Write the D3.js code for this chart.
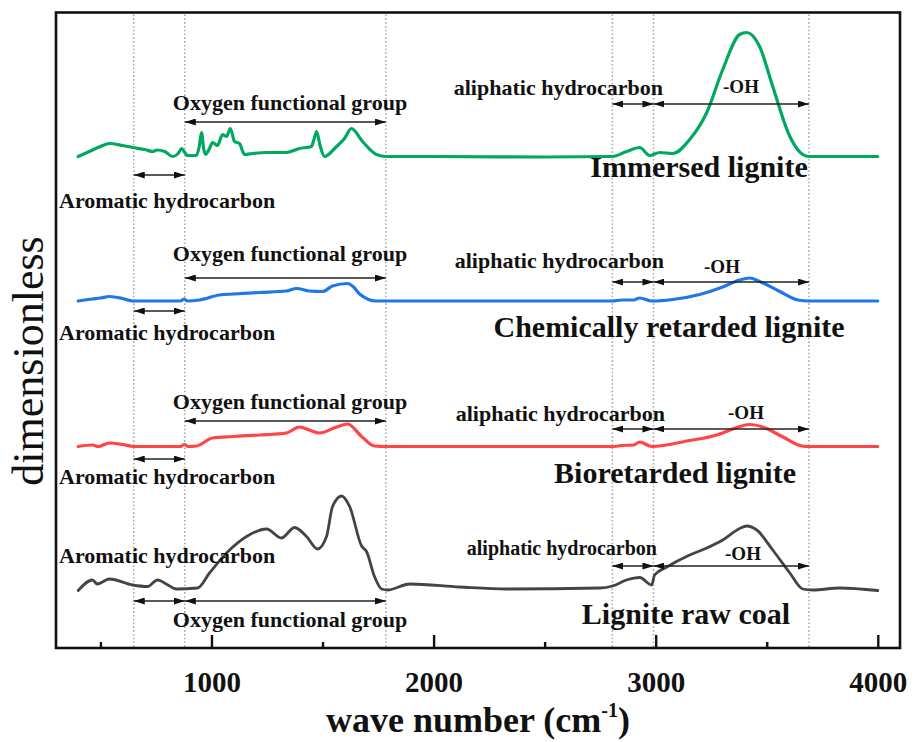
<!DOCTYPE html>
<html>
<head>
<meta charset="utf-8">
<script src="https://cdn.jsdelivr.net/npm/d3@7"></script>
<style>
  html, body { margin: 0; padding: 0; background: #fff; }
  text { font-family: "Liberation Serif", "Times New Roman", serif; }
</style>
</head>
<body>
<script>
// FTIR spectra of four lignite samples: wavenumber (cm-1) vs relative intensity (arbitrary units)
const immersed = [
  [400,0],[450,1.0],[500,2.0],[540,2.6],[600,2.2],[645,1.8],[700,1.4],[735,1.0],[755,1.3],[790,1.0],[824,0],[850,0.6],
  [865,1.6],[880,0.8],[892,0.2],[932,0.2],[945,2.0],[955,4.8],[965,1.5],[973,0.4],[990,1.5],[1005,2.8],
  [1027,2.2],[1050,4.4],[1068,4.0],[1085,5.6],[1104,3.0],[1126,2.6],[1149,0.4],[1185,0.6],[1250,0.8],
  [1338,0.8],[1396,1.6],[1450,2.0],[1462,3.5],[1473,5.0],[1490,2.0],[1509,0],[1563,2.0],[1599,3.6],
  [1630,5.6],[1680,3.0],[1743,0.4],[1785,0],[2000,0],[2500,-0.1],[2805,0],[2869,1.0],[2928,1.8],
  [2973,0.2],[3018,0.8],[3077,0.6],[3153,3.4],[3230,8.8],[3302,17.4],[3378,24.4],[3410,24.8],[3468,22.0],
  [3527,14.0],[3604,4.0],[3662,0.4],[3690,0],[4000,0]
];
const chemRetarded = [
  [400,0],[464,0.4],[500,0.6],[540,0.9],[600,0.5],[645,0],[766,0],[860,0],[878,0.4],[890,0],[946,0.2],
  [1036,1.2],[1100,1.4],[1216,1.7],[1338,2.0],[1383,2.5],[1441,2.0],[1500,1.9],[1545,3.0],[1613,3.5],
  [1640,2.8],[1667,1.4],[1743,0],[1785,0],[2400,0],[2805,0],[2847,0.2],[2900,0.2],[2928,0.6],[2982,0],
  [3077,0.3],[3198,1.3],[3302,2.8],[3378,4.2],[3423,4.6],[3468,3.9],[3559,1.9],[3640,0.2],[3690,0],[4000,0]
];
const bioRetarded = [
  [400,0],[464,0.3],[490,0],[540,0.7],[600,0.4],[650,0],[860,0],[878,0.4],[895,0],[932,0.1],[1005,1.7],
  [1095,2.0],[1216,2.3],[1338,2.7],[1396,3.9],[1440,3.3],[1486,2.7],[1563,3.9],[1613,4.5],[1676,2.0],
  [1734,0.1],[1785,0],[2805,0],[2847,0.2],[2900,0.3],[2928,0.9],[2982,0],[3153,1.2],[3275,2.3],
  [3347,3.5],[3423,4.4],[3482,3.9],[3573,1.9],[3658,0.1],[3690,0],[4000,0]
];
const rawCoal = [
  [400,0],[464,2.1],[486,1.3],[540,2.3],[645,1.1],[712,0.8],[757,2.1],[800,1.2],[842,0.3],[937,0.5],
  [991,3.5],[1068,7.5],[1158,10.8],[1248,12.3],[1315,10.5],[1374,12.6],[1428,10.8],[1477,8.3],[1518,10.8],
  [1545,16.8],[1586,18.9],[1622,16.8],[1676,8.9],[1698,7.8],[1734,2.8],[1766,0.3],[1793,0.1],[1892,1.3],
  [2117,0.7],[2329,0.3],[2748,0.5],[2806,0.9],[2869,2.1],[2928,2.6],[2982,1.1],[2995,3.1],[3050,4.7],
  [3153,7.1],[3230,8.5],[3302,10.1],[3378,12.4],[3410,12.9],[3455,12.1],[3527,8.1],[3604,3.5],[3662,0.3],
  [3707,0.1],[3829,0.5],[4000,0]
];

const seriesNames = ["Immersed lignite", "Chemically retarded lignite", "Bioretarded lignite", "Lignite raw coal"];
const seriesData = [immersed, chemRetarded, bioRetarded, rawCoal];
const seriesOffsets = [98.3, 69.4, 40.3, 11.5];      // vertical stacking offsets (a.u.)
const seriesColors = ["#00a862", "#1f78e6", "#ff4545", "#444444"];

// band boundaries (cm-1)
const bandBounds = [650, 880, 1785, 2805, 2990, 3690];
const bands = [
  { name: "Aromatic hydrocarbon", from: 650, to: 880 },
  { name: "Oxygen functional group", from: 880, to: 1785 },
  { name: "aliphatic hydrocarbon", from: 2805, to: 2990 },
  { name: "-OH", from: 2990, to: 3690 }
];
const majorTicks = [1000, 2000, 3000, 4000];
const minorTicks = [500, 1500, 2500, 3500];

// layout of the per-spectrum annotations (pixels)
const annLayout = [
  { label: [699, 177], oxyText: 110, oxyArrow: 122, aroText: 208, aroArrow: 175, aliText: 95, aliEnd: 663, aliSize: 22, aliArrow: 104, oh: [741, 93] },
  { label: [669, 337], oxyText: 261, oxyArrow: 278, aroText: 340, aroArrow: 311, aliText: 268, aliEnd: 664, aliSize: 22, aliArrow: 282, oh: [722, 273] },
  { label: [675, 483], oxyText: 409, oxyArrow: 421, aroText: 484, aroArrow: 459, aliText: 421, aliEnd: 665, aliSize: 22, aliArrow: 429, oh: [746, 419] },
  { label: [686, 624], oxyText: 627, oxyArrow: 601, aroText: 563, aroArrow: 601, aliText: 555, aliEnd: 657, aliSize: 20, aliArrow: 566, oh: [743, 560] }
];

const W = 918, H = 742;
const plot = { left: 56, right: 900, top: 12.5, bottom: 648 };

const svg = d3.select("body").append("svg").attr("width", W).attr("height", H);

const x = d3.scaleLinear().domain([300, 4100]).range([plot.left, plot.right]);
const y = d3.scaleLinear().domain([0, 127.1]).range([plot.bottom, plot.top]);

// arrow head marker
const defs = svg.append("defs");
defs.append("marker")
  .attr("id", "head")
  .attr("viewBox", "0 0 11 7")
  .attr("refX", 11).attr("refY", 3.5)
  .attr("markerWidth", 11).attr("markerHeight", 7)
  .attr("markerUnits", "userSpaceOnUse")
  .attr("orient", "auto-start-reverse")
  .append("path").attr("d", "M0,0 L11,3.5 L0,7 Z").attr("fill", "#111");

// dotted band guides
svg.append("g").selectAll("line").data(bandBounds).join("line")
  .attr("x1", d => x(d)).attr("x2", d => x(d))
  .attr("y1", plot.top + 2).attr("y2", plot.bottom)
  .attr("stroke", "#a8a8a8").attr("stroke-width", 1.5)
  .attr("stroke-dasharray", "1.6,2.2");

// spectra
const line = d3.line().curve(d3.curveMonotoneX);
seriesData.forEach((data, i) => {
  svg.append("path")
    .attr("d", line(data.map(d => [x(d[0]), y(d[1] + seriesOffsets[i])])))
    .attr("fill", "none")
    .attr("stroke", seriesColors[i])
    .attr("stroke-width", i === 3 ? 2.8 : 3.2)
    .attr("stroke-linejoin", "round")
    .attr("stroke-linecap", "round");
});

// annotations
const ann = svg.append("g").attr("fill", "#111").attr("font-weight", "bold");
function arrow(from, to, yy) {
  ann.append("line")
    .attr("x1", x(from)).attr("x2", x(to)).attr("y1", yy).attr("y2", yy)
    .attr("stroke", "#222").attr("stroke-width", 1.4)
    .attr("marker-start", "url(#head)").attr("marker-end", "url(#head)");
}
annLayout.forEach((L, i) => {
  const [aro, oxy, ali, oh] = bands;
  arrow(aro.from, aro.to, L.aroArrow);
  arrow(oxy.from, oxy.to, L.oxyArrow);
  arrow(ali.from, ali.to, L.aliArrow);
  arrow(oh.from, oh.to, L.aliArrow);

  ann.append("text").attr("x", 59).attr("y", L.aroText).attr("font-size", 22).text(aro.name);
  ann.append("text").attr("x", 290).attr("y", L.oxyText).attr("font-size", 22)
    .attr("text-anchor", "middle").text(oxy.name);
  ann.append("text").attr("x", L.aliEnd).attr("y", L.aliText).attr("font-size", L.aliSize)
    .attr("text-anchor", "end").text(ali.name);
  ann.append("text").attr("x", L.oh[0]).attr("y", L.oh[1]).attr("font-size", 19)
    .attr("text-anchor", "middle").text(oh.name);
  ann.append("text").attr("x", L.label[0]).attr("y", L.label[1]).attr("font-size", 30)
    .attr("text-anchor", "middle").text(seriesNames[i]);
});

// frame
svg.append("rect")
  .attr("x", plot.left).attr("y", plot.top)
  .attr("width", plot.right - plot.left).attr("height", plot.bottom - plot.top)
  .attr("fill", "none").attr("stroke", "#111").attr("stroke-width", 2.6);

// x axis: inward ticks
const gMajor = svg.append("g").attr("transform", `translate(0,${plot.bottom})`)
  .call(d3.axisBottom(x).tickValues(majorTicks).tickSize(-13).tickFormat(d3.format("d")));
const gMinor = svg.append("g").attr("transform", `translate(0,${plot.bottom})`)
  .call(d3.axisBottom(x).tickValues(minorTicks).tickSize(-6).tickFormat(""));
[gMajor, gMinor].forEach(g => {
  g.select(".domain").remove();
  g.selectAll(".tick line").attr("stroke", "#111").attr("stroke-width", 2.4);
});
gMajor.selectAll(".tick text")
  .attr("y", 44).attr("dy", null)
  .attr("font-family", "'Liberation Serif', 'Times New Roman', serif")
  .attr("font-size", 29).attr("font-weight", "bold").attr("fill", "#111");

// axis titles
const xt = svg.append("text").attr("x", 478).attr("y", 732)
  .attr("text-anchor", "middle").attr("font-size", 36).attr("font-weight", "bold").attr("fill", "#111");
xt.append("tspan").text("wave number (cm");
xt.append("tspan").attr("font-size", 20).attr("dy", -15).text("-1");
xt.append("tspan").attr("dy", 15).text(")");

svg.append("text")
  .attr("transform", "translate(43,361) rotate(-90)")
  .attr("text-anchor", "middle").attr("font-size", 44).attr("fill", "#111")
  .text("dimensionless");
</script>
</body>
</html>
